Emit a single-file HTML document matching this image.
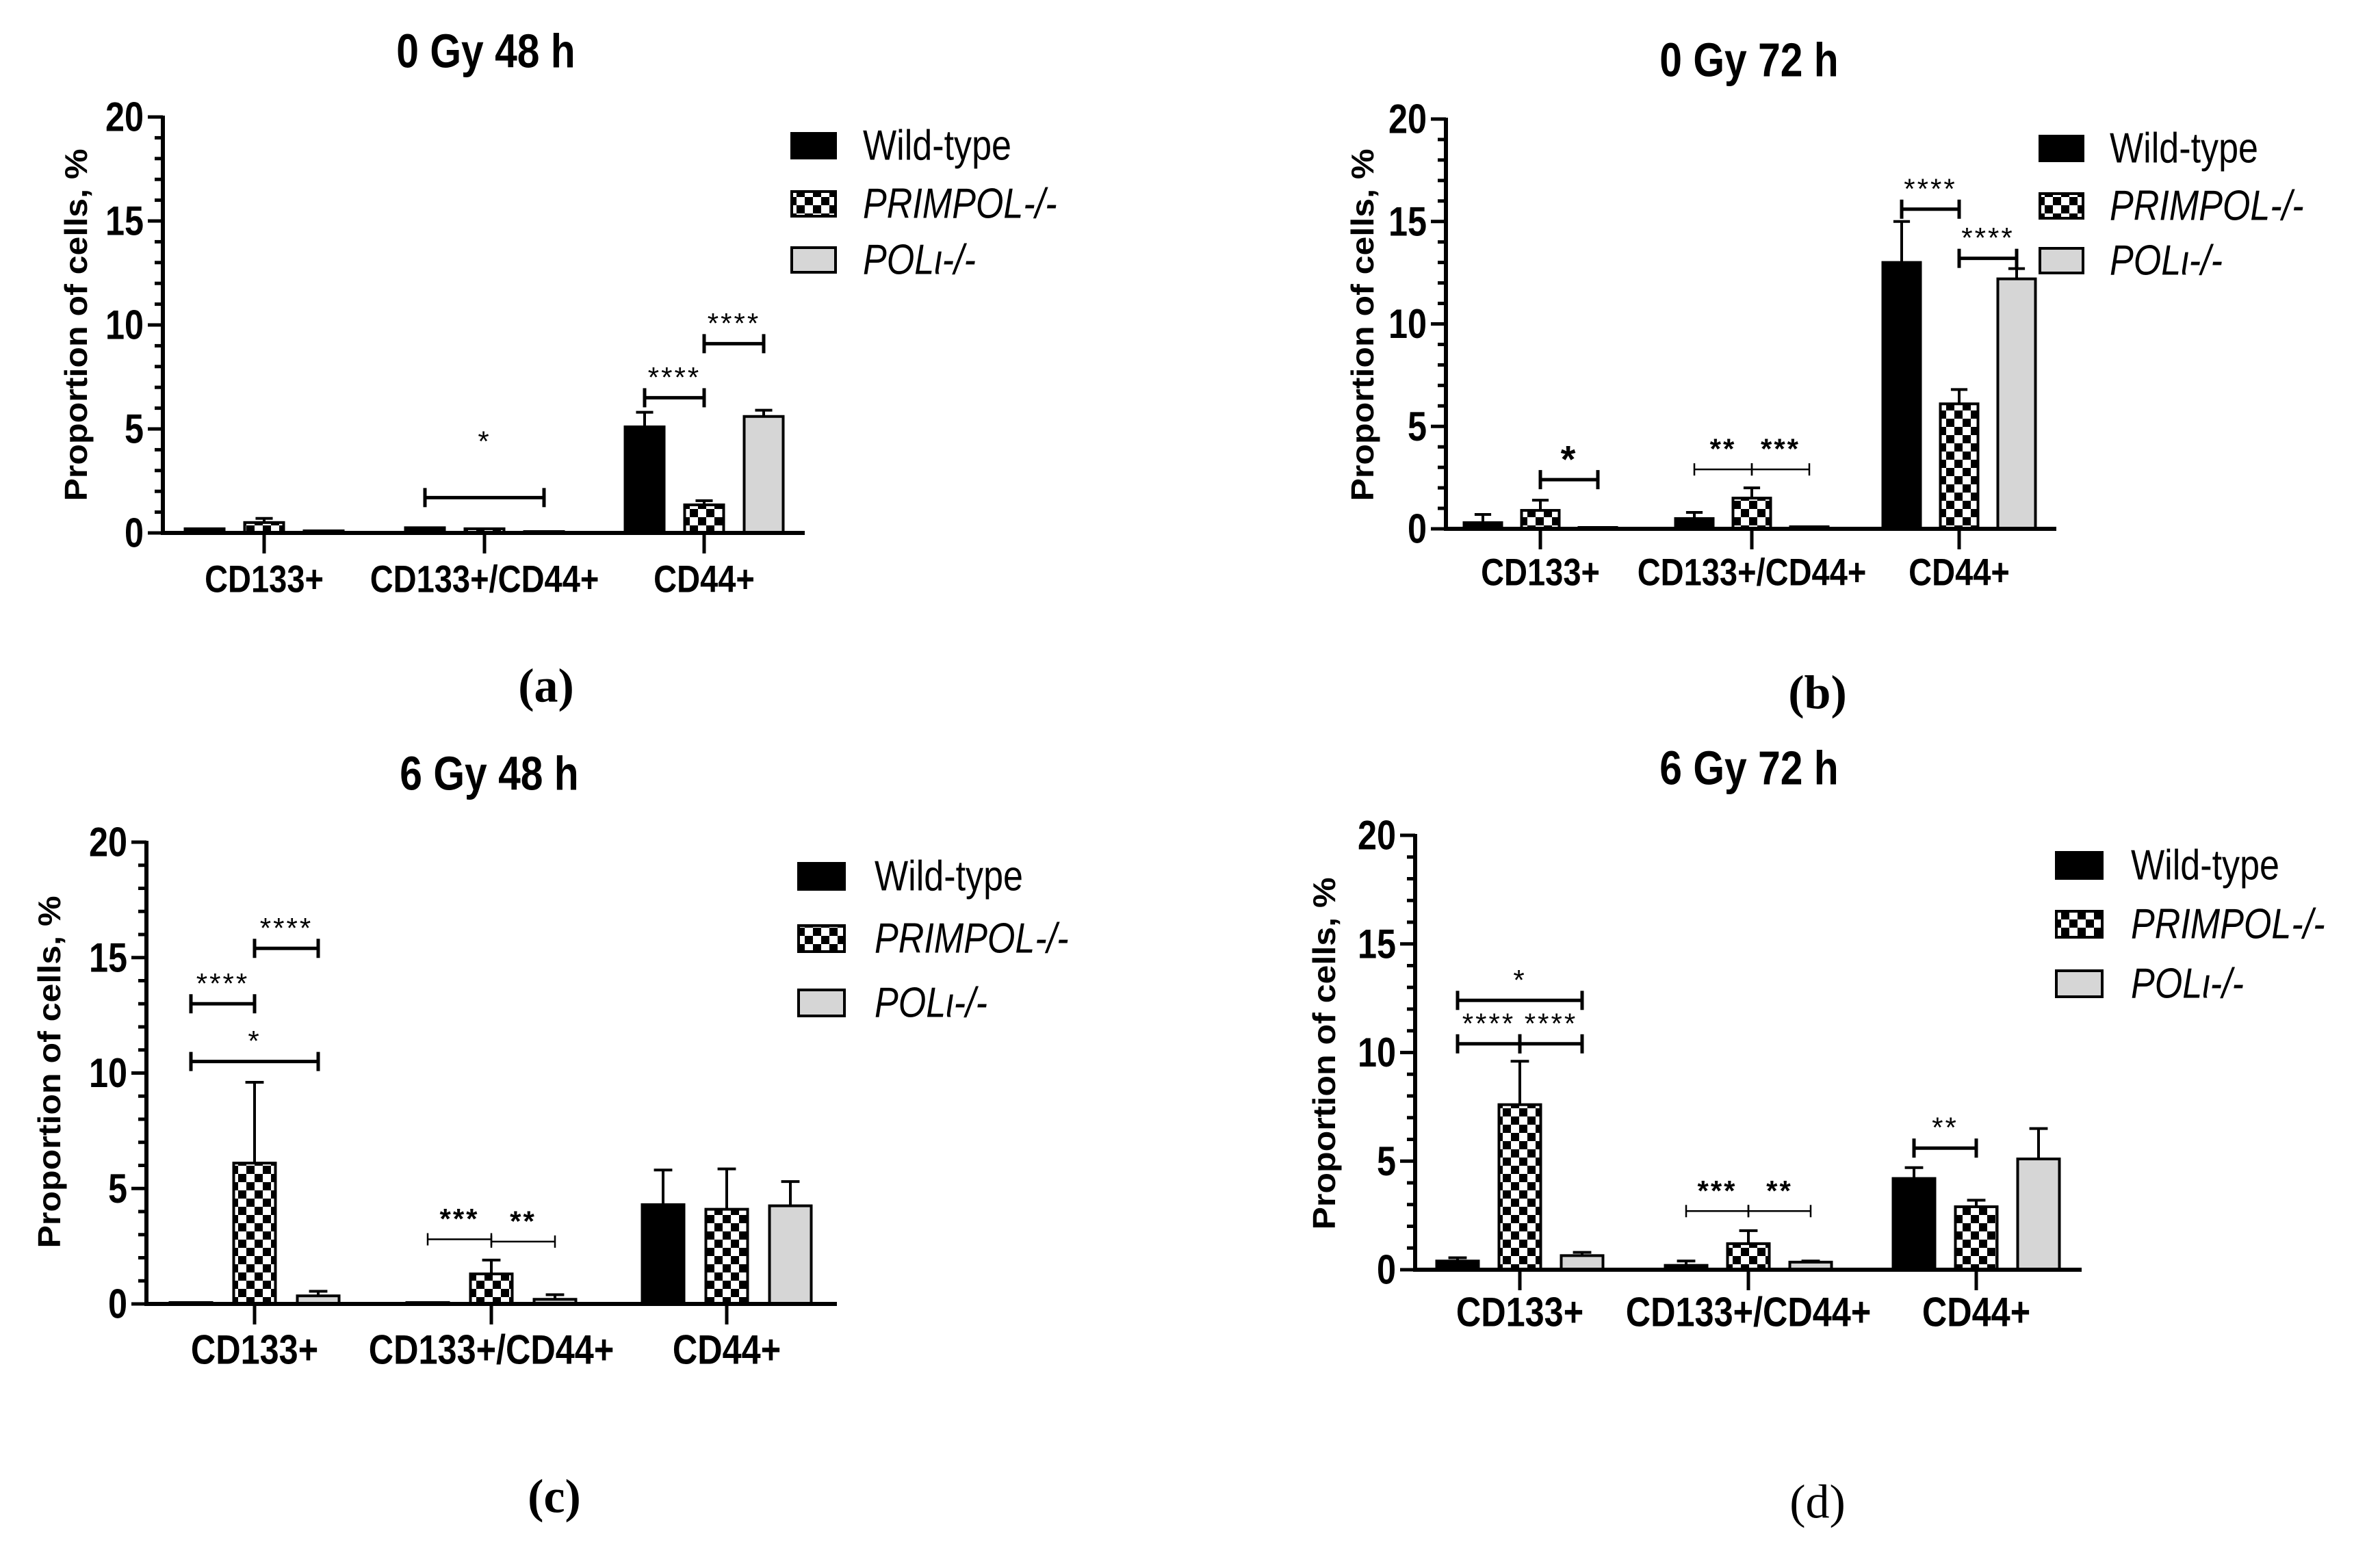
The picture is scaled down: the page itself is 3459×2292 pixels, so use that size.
<!DOCTYPE html>
<html><head><meta charset="utf-8">
<style>
html,body{margin:0;padding:0;background:#fff;}
svg{display:block;}
</style></head>
<body>
<svg id="fig" width="3459" height="2292" viewBox="0 0 3459 2292" xmlns="http://www.w3.org/2000/svg">
<defs>
<pattern id="chk" patternUnits="userSpaceOnUse" width="24" height="24">
<rect width="24" height="24" fill="#fff"/><rect width="12" height="12" fill="#000"/><rect x="12" y="12" width="12" height="12" fill="#000"/>
</pattern>
</defs>
</svg>
<script>
const categories = ["CD133+", "CD133+/CD44+", "CD44+"];
const seriesNames = ["Wild-type", "PRIMPOL-/-", "POLι-/-"];
const yTicks = [0, 5, 10, 15, 20];

// panel a: 0 Gy 48 h
const aWT = [0.2, 0.25, 5.1];
const aPR = [0.5, 0.2, 1.35];
const aPOL = [0.1, 0.05, 5.6];
const aWTerr = [0.2, 0.25, 5.8];
const aPRerr = [0.7, 0.2, 1.55];
const aPOLerr = [0.1, 0.05, 5.9];
const aSig = [[1,0,2,1.7,"*",4.4],[2,0,1,6.5,"****",null],[2,1,2,9.1,"****",null]];

// panel b: 0 Gy 72 h
const bWT = [0.3, 0.5, 13.0];
const bPR = [0.9, 1.5, 6.1];
const bPOL = [0.05, 0.1, 12.2];
const bWTerr = [0.7, 0.8, 15.0];
const bPRerr = [1.4, 2.0, 6.8];
const bPOLerr = [0.05, 0.1, 12.7];
const bSig = [[0,1,2,2.4,"*",null],[1,0,1,2.9,"**",null],[1,1,2,2.9,"***",null],[2,0,1,15.6,"****",null],[2,1,2,13.2,"****",null]];

// panel c: 6 Gy 48 h
const cWT = [0.05, 0.02, 4.3];
const cPR = [6.1, 1.3, 4.1];
const cPOL = [0.35, 0.2, 4.25];
const cWTerr = [0.05, 0.02, 5.8];
const cPRerr = [9.6, 1.9, 5.85];
const cPOLerr = [0.55, 0.4, 5.3];
const cSig = [[0,0,1,13.0,"****",null],[0,1,2,15.4,"****",null],[0,0,2,10.5,"*",null],[1,0,1,2.8,"***",null],[1,1,2,2.7,"**",null]];

// panel d: 6 Gy 72 h
const dWT = [0.4, 0.2, 4.2];
const dPR = [7.6, 1.2, 2.9];
const dPOL = [0.65, 0.35, 5.1];
const dWTerr = [0.55, 0.4, 4.7];
const dPRerr = [9.6, 1.8, 3.2];
const dPOLerr = [0.8, 0.4, 6.5];
const dSig = [[0,0,2,12.4,"*",null],[0,0,1,10.4,"****",null],[0,1,2,10.4,"****",null],[1,0,1,2.7,"***",null],[1,1,2,2.7,"**",null],[2,0,1,5.6,"**",null]];

const NS = "http://www.w3.org/2000/svg";
const svg = document.getElementById("fig");
function mk(tag, attrs, parent){
  const e = document.createElementNS(NS, tag);
  for (const k in attrs) e.setAttribute(k, attrs[k]);
  (parent||svg).appendChild(e);
  return e;
}
function ntext(x, y, str, size, anchor, parent, extra){
  const attrs = {x:0, y:0, transform:`translate(${x},${y}) scale(0.84,1)`, "text-anchor":anchor, "dominant-baseline":"central", "font-size":size, "font-family":"Liberation Sans, sans-serif"};
  for (const k in (extra||{})) attrs[k] = extra[k];
  const t = mk("text", attrs, parent);
  t.textContent = str;
  return t;
}

const panels = [
 {id:"a", title:"0 Gy 48 h", vals:[aWT,aPR,aPOL], errs:[aWTerr,aPRerr,aPOLerr], sig:aSig,
  ax:238, y0:779, ppu:30.4, xEnd:1176, cats:[386,708,1029], bw:57, off:87,
  tx:710, ty:74, ylx:111, yly:475, catY:846, lgx:1157, lgw:64, lgh:36, lgRows:[213,298,380], lgTx:1261, capX:798, capY:1003},
 {id:"b", title:"0 Gy 72 h", vals:[bWT,bPR,bPOL], errs:[bWTerr,bPRerr,bPOLerr], sig:bSig,
  ax:2113, y0:773, ppu:29.95, xEnd:3005, cats:[2251,2560,2863], bw:55, off:84,
  tx:2556, ty:87, ylx:1991, yly:475, catY:836, lgx:2981, lgw:63, lgh:36, lgRows:[217,301,381], lgTx:3083, capX:2656, capY:1013},
 {id:"c", title:"6 Gy 48 h", vals:[cWT,cPR,cPOL], errs:[cWTerr,cPRerr,cPOLerr], sig:cSig,
  ax:214, y0:1906, ppu:33.75, xEnd:1223, cats:[372,718,1062], bw:61, off:93,
  tx:715, ty:1130, ylx:72, yly:1567, catY:1973, lgx:1167, lgw:67, lgh:38, lgRows:[1281,1372,1466], lgTx:1278, capX:810, capY:2188},
 {id:"d", title:"6 Gy 72 h", vals:[dWT,dPR,dPOL], errs:[dWTerr,dPRerr,dPOLerr], sig:dSig,
  ax:2068, y0:1856, ppu:31.75, xEnd:3042, cats:[2221,2555,2888], bw:61, off:91,
  tx:2556, ty:1122, ylx:1935, yly:1540, catY:1918, lgx:3005, lgw:67, lgh:38, lgRows:[1265,1351,1438], lgTx:3114, capX:2656, capY:2196}
];
const fills = ["#000", "url(#chk)", "#d6d6d6"];

panels.forEach(p => {
  const g = mk("g", {});
  
  
  const Y = v => p.y0 - v * p.ppu;
  const X = (ci, si) => p.cats[ci] + (si - 1) * p.off;

  const t = ntext(p.tx, p.ty, p.title, 70, "middle", g, {"font-weight":"bold"});
  
  

  const yl = mk("text", {x:0, y:0, transform:`translate(${p.ylx},${p.yly}) rotate(-90)`, "text-anchor":"middle", "dominant-baseline":"central", "font-size":46, "font-weight":"bold", "font-family":"Liberation Sans, sans-serif", textLength:515, lengthAdjust:"spacingAndGlyphs"}, g);
  yl.textContent = "Proportion of cells, %";
  
  

  for (let si = 0; si < 3; si++) {
    for (let ci = 0; ci < 3; ci++) {
      const v = p.vals[si][ci], e = p.errs[si][ci];
      const cx = X(ci, si);
      if (e > v) {
        const el = mk("line", {x1:cx, x2:cx, y1:Y(v), y2:Y(e), stroke:"#000", "stroke-width":4}, g);
        
        
        const cap = mk("line", {x1:cx - p.bw*0.22, x2:cx + p.bw*0.22, y1:Y(e), y2:Y(e), stroke:"#000", "stroke-width":4}, g);
        
        
      }
      const h = Math.max(v * p.ppu, 2);
      const r = mk("rect", {x:cx - p.bw/2, y:p.y0 - h, width:p.bw, height:h, fill:fills[si], stroke:"#000", "stroke-width":4}, g);
      
      
    }
  }

  const ya = mk("line", {x1:p.ax, x2:p.ax, y1:Y(20) - 2, y2:p.y0 + 2, stroke:"#000", "stroke-width":6}, g);
  
  
  for (let v = 0; v <= 20; v++) {
    const major = v % 5 === 0;
    const tk = mk("line", {x1:p.ax - (major ? 22 : 12), x2:p.ax, y1:Y(v), y2:Y(v), stroke:"#000", "stroke-width":5}, g);
    
    
  }
  yTicks.forEach(v => {
    const tl = ntext(p.ax - 28, Y(v), String(v), 60, "end", g, {"font-weight":"bold"});
    
    
  });
  const xa = mk("line", {x1:p.ax - 3, x2:p.xEnd, y1:p.y0, y2:p.y0, stroke:"#000", "stroke-width":6}, g);
  
  
  categories.forEach((c, ci) => {
    const tk = mk("line", {x1:p.cats[ci], x2:p.cats[ci], y1:p.y0, y2:p.y0 + 30, stroke:"#000", "stroke-width":5}, g);
    
    
    const cl = ntext(p.cats[ci], p.catY, c, (p.id==="c"||p.id==="d") ? 60 : 56, "middle", g, {"font-weight":"bold"});
    
    
  });

  p.sig.forEach(s => {
    const [ci, a, b, yv, lab, ly] = s;
    const x1 = X(ci, a), x2 = X(ci, b), yy = Y(yv);
    const thin = (p.id !== "a" && ci === 1);
    const sw = thin ? 2.5 : 5, ch = thin ? 9 : 14;
    const bg = mk("g", {stroke:"#000", "stroke-width":sw}, g);
    
    
    mk("line", {x1:x1, x2:x2, y1:yy, y2:yy}, bg);
    mk("line", {x1:x1, x2:x1, y1:yy - ch, y2:yy + ch}, bg);
    mk("line", {x1:x2, x2:x2, y1:yy - ch, y2:yy + ch}, bg);
    const st = mk("text", {x:(x1 + x2)/2, y:(ly != null ? Y(ly) : yy - 30), "text-anchor":"middle", "dominant-baseline":"central", "font-size":(lab === "*" && p.id === "b") ? 56 : 42, "font-family":"Liberation Sans, sans-serif", "letter-spacing":3, "font-weight":(p.id==="b"&&ci<2)||((p.id==="c"||p.id==="d")&&ci===1)?"bold":"normal"}, g);
    st.textContent = lab;
    
    
  });

  seriesNames.forEach((n, si) => {
    const lg = mk("g", {}, g);
    
    
    mk("rect", {x:p.lgx, y:p.lgRows[si] - p.lgh/2, width:p.lgw, height:p.lgh, fill:fills[si], stroke:"#000", "stroke-width":4}, lg);
    ntext(p.lgTx, p.lgRows[si], n, 62, "start", lg, {"font-style": si ? "italic" : "normal"});
  });

  const cap = mk("text", {x:p.capX, y:p.capY, "text-anchor":"middle", "dominant-baseline":"central", "font-size":70, "font-family":"Liberation Serif, serif"}, g);
  cap.textContent = "(" + p.id + ")";
  
  
  if (p.id !== "d") cap.setAttribute("font-weight", "bold");
});
</script>
</body></html>
